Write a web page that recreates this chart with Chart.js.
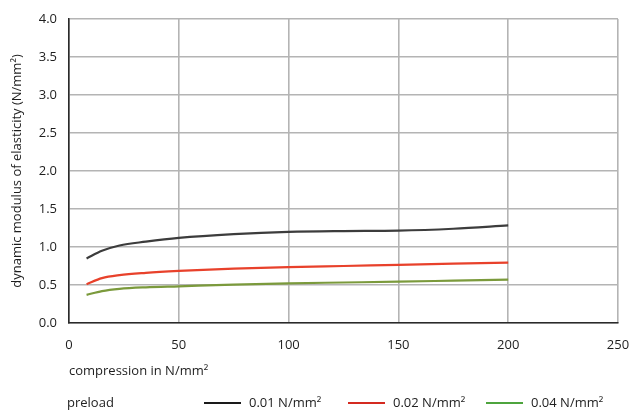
<!DOCTYPE html>
<html>
<head>
<meta charset="utf-8">
<script src="https://cdn.jsdelivr.net/npm/chart.js@4"></script>
<style>
  html, body { margin: 0; padding: 0; background: #fff; }
  #wrap { position: relative; width: 629px; height: 412px; }
  #legend { position: absolute; left: 0; top: 393px; width: 629px; height: 20px;
            font-family: "Open Sans", sans-serif; font-size: 13px; color: #222; }
  #legend span { position: absolute; top: 0; white-space: nowrap; }
  #legend i { position: absolute; top: 9px; height: 2px; width: 37px; }
</style>
</head>
<body>
<div id="wrap">
  <canvas id="chart" width="629" height="412"></canvas>
  <div id="legend"></div>
</div>
<script>
'use strict'

// compression in N/mm2 (x)
const compression = [8, 15, 23, 35, 50, 75, 100, 125, 150, 175, 200]
// dynamic modulus of elasticity per preload
const preload001 = [0.85, 0.95, 1.02, 1.07, 1.12, 1.17, 1.20, 1.21, 1.215, 1.24, 1.285]
const preload002 = [0.51, 0.59, 0.63, 0.66, 0.685, 0.715, 0.735, 0.75, 0.765, 0.78, 0.795]
const preload004 = [0.37, 0.42, 0.45, 0.47, 0.483, 0.505, 0.522, 0.533, 0.544, 0.557, 0.57]
const seriesLabels = ['0.01 N/mm²', '0.02 N/mm²', '0.04 N/mm²']
const xTicks = [0, 50, 100, 150, 200, 250]
const yTicks = [0, 0.5, 1, 1.5, 2, 2.5, 3, 3.5, 4]

const lineColors = ['#3c3c3c', '#e8412b', '#7b9a3c']
const legendColors = ['#1a1a1a', '#d42a20', '#4ea43e']

function toPoints(ys){
    let pts = []
    for(var i=0;i<compression.length;i++){
        pts.push({x: compression[i], y: ys[i]})
    }
    return pts
}

const allSeries = [preload001, preload002, preload004]
const datasets = allSeries.map((s, i) => ({
    label: seriesLabels[i],
    data: toPoints(s),
    borderColor: lineColors[i],
    borderWidth: 2.2,
    pointRadius: 0,
    showLine: true,
    fill: false,
    cubicInterpolationMode: 'monotone'
}))

const font = {family: '"Open Sans", sans-serif', size: 13}

new Chart(document.getElementById('chart'), {
    type: 'scatter',
    data: {datasets: datasets},
    options: {
        responsive: false,
        animation: false,
        layout: {padding: {left: 0, right: 11, top: 19, bottom: 32}},
        plugins: {legend: {display: false}, tooltip: {enabled: false}},
        scales: {
            x: {
                type: 'linear', min: 0, max: 250,
                afterBuildTicks: s => { s.ticks = xTicks.map(v => ({value: v})) },
                afterFit: s => { s.height = 57; s.paddingLeft = 0; s.paddingRight = 0 },
                grid: {color: '#b4b4b4', lineWidth: 1.6, drawTicks: false, tickLength: 0},
                border: {color: '#2a2a2a', width: 1.6},
                ticks: {font: font, color: '#1e1e1e', padding: 14, maxRotation: 0},
                title: {display: true, text: 'compression in N/mm²', align: 'start',
                        font: font, color: '#1e1e1e', padding: {top: 0, bottom: 1}}
            },
            y: {
                min: 0, max: 4,
                afterBuildTicks: s => { s.ticks = yTicks.map(v => ({value: v})) },
                afterFit: s => { s.width = 69; s.paddingTop = 0; s.paddingBottom = 0 },
                grid: {color: '#b4b4b4', lineWidth: 1.6, drawTicks: false, tickLength: 0},
                border: {color: '#2a2a2a', width: 1.6},
                ticks: {font: font, color: '#1e1e1e', padding: 12,
                        callback: v => v.toFixed(1)},
                title: {display: true, text: 'dynamic modulus of elasticity (N/mm²)',
                        font: font, color: '#1e1e1e', padding: {top: 9, bottom: 0}}
            }
        }
    }
})

// legend row: "preload" then the three line samples
const legend = document.getElementById('legend')
const title = document.createElement('span')
title.textContent = 'preload'
title.style.left = '67px'
legend.appendChild(title)
const sampleX = [204, 348, 486]
seriesLabels.forEach((lab, i) => {
    const line = document.createElement('i')
    line.style.left = sampleX[i] + 'px'
    line.style.background = legendColors[i]
    legend.appendChild(line)
    const txt = document.createElement('span')
    txt.textContent = lab
    txt.style.left = (sampleX[i] + 45) + 'px'
    legend.appendChild(txt)
})
</script>
</body>
</html>
